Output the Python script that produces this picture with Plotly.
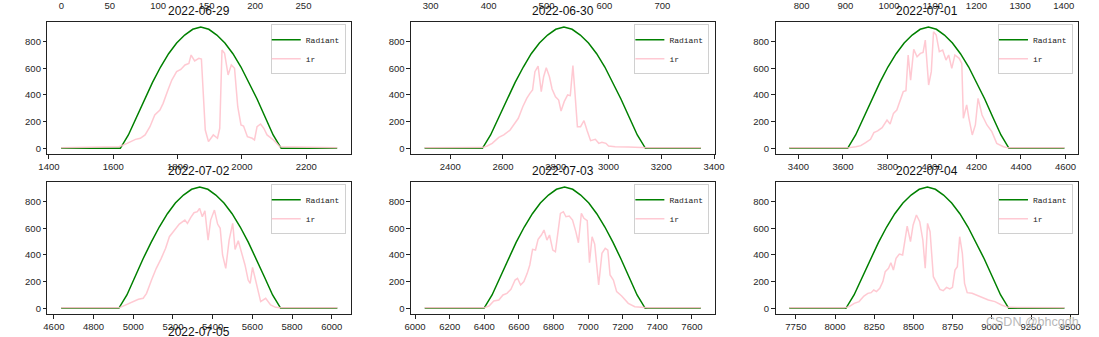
import plotly.graph_objects as go

W, H = 1099, 337

titles = ["2022-06-29", "2022-06-30", "2022-07-01", "2022-07-02", "2022-07-03", "2022-07-04"]
next_title = "2022-07-05"
watermark = "CSDN @bhcgdh"

# ---------- Radiant (green) ----------
rad_x1 = [1438, 1622, 1647, 1672, 1697, 1722, 1747, 1772, 1797, 1822, 1847, 1872, 1897, 1922, 1947, 1972, 1997, 2022, 2047, 2072, 2097, 2122, 2296]
rad_y1 = [0, 0, 100, 235, 370, 495, 610, 710, 790, 850, 893, 910, 893, 850, 790, 710, 610, 495, 370, 235, 100, 0, 0]
rad_x2 = [2303, 2522, 2553, 2584, 2615, 2646, 2677, 2707, 2738, 2769, 2800, 2831, 2862, 2893, 2924, 2955, 2986, 3016, 3047, 3078, 3109, 3140, 3350]
rad_y2 = [0, 0, 100, 235, 370, 495, 610, 710, 790, 850, 893, 910, 893, 850, 790, 710, 610, 495, 370, 235, 100, 0, 0]
rad_x3 = [3359, 3621, 3657, 3694, 3730, 3766, 3802, 3839, 3875, 3911, 3947, 3984, 4020, 4056, 4092, 4128, 4165, 4201, 4237, 4273, 4310, 4346, 4595]
rad_y3 = [0, 0, 100, 235, 370, 495, 610, 710, 790, 850, 893, 910, 893, 850, 790, 710, 610, 495, 370, 235, 100, 0, 0]
rad_x4 = [4637, 4927, 4968, 5008, 5049, 5090, 5131, 5172, 5212, 5253, 5294, 5335, 5376, 5416, 5457, 5498, 5539, 5580, 5620, 5661, 5702, 5743, 6028]
rad_y4 = [0, 0, 100, 235, 370, 495, 610, 710, 790, 850, 893, 910, 893, 850, 790, 710, 610, 495, 370, 235, 100, 0, 0]
rad_x5 = [6056, 6398, 6445, 6491, 6538, 6584, 6631, 6678, 6724, 6771, 6817, 6864, 6911, 6957, 7004, 7050, 7097, 7144, 7190, 7237, 7283, 7330, 7651]
rad_y5 = [0, 0, 100, 235, 370, 495, 610, 710, 790, 850, 893, 910, 893, 850, 790, 710, 610, 495, 370, 235, 100, 0, 0]
rad_x6 = [7708, 8069, 8121, 8173, 8225, 8277, 8329, 8381, 8433, 8485, 8537, 8589, 8640, 8692, 8744, 8796, 8848, 8900, 8952, 9004, 9056, 9108, 9463]
rad_y6 = [0, 0, 100, 235, 370, 495, 610, 710, 790, 850, 893, 910, 893, 850, 790, 710, 610, 495, 370, 235, 100, 0, 0]

# ---------- ir (pink) ----------
ir_x1 = [1438, 1618, 1643, 1669, 1684, 1699, 1714, 1729, 1745, 1755, 1770, 1782, 1797, 1810, 1823, 1835, 1842, 1853, 1866, 1874,
         1886, 1896, 1911, 1924, 1931, 1938, 1946, 1957, 1967, 1977, 1987, 1997, 2005, 2017, 2032, 2039, 2047, 2058, 2068, 2078,
         2098, 2118, 2296]
ir_y1 = [3, 12, 37, 67, 75, 100, 162, 250, 287, 337, 437, 512, 575, 592, 625, 637, 700, 655, 675, 670,
         137, 50, 100, 75, 150, 737, 712, 550, 625, 600, 312, 175, 167, 87, 75, 62, 162, 182, 150, 100,
         62, 12, 3]
ir_x2 = [2303, 2522, 2540, 2559, 2584, 2603, 2627, 2646, 2658, 2675, 2690, 2702, 2712, 2721, 2733, 2745, 2754, 2764, 2776, 2786,
         2799, 2811, 2820, 2832, 2845, 2855, 2865, 2872, 2882, 2894, 2907, 2919, 2932, 2950, 2963, 2975, 2990, 3000, 3025, 3075,
         3124, 3149, 3350]
ir_y2 = [3, 5, 17, 37, 82, 100, 137, 187, 225, 312, 375, 412, 437, 575, 617, 425, 537, 605, 537, 445,
         387, 362, 280, 350, 400, 395, 620, 437, 162, 162, 207, 132, 57, 67, 37, 45, 37, 17, 12, 10,
         5, 3, 3]
ir_x3 = [3359, 3621, 3658, 3680, 3702, 3724, 3739, 3756, 3776, 3798, 3812, 3827, 3842, 3857, 3871, 3883, 3893, 3904, 3918, 3933,
         3948, 3960, 3970, 3985, 3997, 4007, 4019, 4033, 4048, 4063, 4075, 4089, 4103, 4122, 4134, 4141, 4156, 4166, 4181, 4195,
         4207, 4225, 4247, 4269, 4291, 4321, 4343, 4595]
ir_y3 = [3, 3, 12, 20, 42, 67, 117, 130, 155, 212, 182, 262, 287, 362, 425, 432, 700, 512, 742, 687,
         712, 720, 812, 475, 575, 875, 850, 725, 737, 662, 700, 600, 700, 675, 637, 225, 325, 225, 100, 175,
         375, 250, 175, 125, 37, 12, 3, 3]
ir_x4 = [4637, 4927, 4943, 4968, 5001, 5026, 5050, 5067, 5092, 5116, 5141, 5163, 5182, 5207, 5232, 5260, 5273, 5290, 5306, 5323,
         5334, 5348, 5361, 5377, 5390, 5409, 5425, 5438, 5450, 5466, 5483, 5501, 5513, 5529, 5546, 5563, 5579, 5589, 5601, 5617,
         5642, 5667, 5692, 5717, 5744, 6028]
ir_y4 = [3, 3, 12, 30, 55, 67, 75, 112, 212, 300, 375, 450, 537, 587, 632, 662, 637, 682, 717, 725,
         750, 687, 732, 512, 662, 737, 632, 600, 400, 300, 512, 637, 442, 507, 425, 325, 212, 187, 307, 212,
         50, 75, 25, 7, 3, 3]
ir_x5 = [6056, 6398, 6427, 6455, 6484, 6508, 6531, 6554, 6578, 6592, 6610, 6629, 6648, 6663, 6679, 6696, 6711, 6730, 6745, 6762,
         6777, 6796, 6811, 6824, 6840, 6857, 6872, 6891, 6910, 6929, 6944, 6961, 6976, 6995, 7008, 7023, 7038, 7061, 7080, 7099,
         7114, 7127, 7146, 7165, 7194, 7232, 7270, 7326, 7345, 7651]
ir_y5 = [3, 3, 17, 55, 62, 100, 112, 142, 212, 225, 175, 200, 262, 325, 442, 437, 517, 550, 587, 512,
         550, 437, 425, 550, 712, 725, 687, 692, 662, 575, 492, 712, 675, 657, 342, 537, 482, 175, 412, 450,
         437, 250, 212, 125, 92, 37, 12, 5, 3, 3]
ir_x6 = [7708, 8059, 8090, 8122, 8153, 8184, 8209, 8230, 8247, 8264, 8285, 8305, 8320, 8341, 8356, 8372, 8389, 8410, 8431, 8445,
         8460, 8481, 8498, 8519, 8540, 8560, 8575, 8590, 8606, 8627, 8648, 8669, 8690, 8711, 8732, 8749, 8765, 8780, 8795, 8812,
         8826, 8843, 8874, 8899, 8926, 8978, 9020, 9062, 9104, 9463]
ir_y6 = [3, 3, 12, 37, 50, 92, 112, 117, 137, 125, 150, 200, 275, 300, 342, 287, 375, 407, 400, 500,
         617, 500, 625, 700, 650, 512, 300, 637, 575, 237, 187, 142, 132, 157, 145, 157, 287, 312, 537, 412,
         187, 117, 112, 100, 82, 62, 50, 25, 7, 3]

# axis ranges
x_ranges = [[1395, 2339], [2251, 3402], [3297, 4657], [4567, 6097], [5976, 7731], [7620, 9551]]
x_dticks = [200, 200, 200, 200, 200, 250]
y_range = [-43, 950]
y_ticks = [0, 200, 400, 600, 800]

# tick labels of the row above (cut off by the crop)
top_ranges = [[-14.4, 299], [266, 790], [740, 1433]]
top_dticks = [50, 100, 100]

rad_x = [rad_x1, rad_x2, rad_x3, rad_x4, rad_x5, rad_x6]
rad_y = [rad_y1, rad_y2, rad_y3, rad_y4, rad_y5, rad_y6]
ir_x = [ir_x1, ir_x2, ir_x3, ir_x4, ir_x5, ir_x6]
ir_y = [ir_y1, ir_y2, ir_y3, ir_y4, ir_y5, ir_y6]

col_px = [(39, 348), (409, 718), (780, 1088)]
row_px = [(21.7, 154), (181.7, 314)]

tick_font = dict(family="Liberation Sans Narrow, Liberation Sans, Arial", size=9.5, color="#262626")
title_font = dict(family="Liberation Sans Narrow, Liberation Sans, Arial", size=12, color="#111")
legend_font = dict(family="Liberation Mono, DejaVu Sans Mono, monospace", size=8, color="#222")

fig = go.Figure()
layout = dict(width=W, height=H, margin=dict(l=0, r=0, t=0, b=0),
              paper_bgcolor="white", plot_bgcolor="white", annotations=[])

for i in range(6):
    r, c = divmod(i, 3)
    n = i + 1
    xa = "x" if n == 1 else f"x{n}"
    ya = "y" if n == 1 else f"y{n}"
    lg = "legend" if n == 1 else f"legend{n}"
    fig.add_trace(go.Scatter(x=rad_x[i], y=rad_y[i], mode="lines", name="Radiant",
                             line=dict(color="#008000", width=1.5), xaxis=xa, yaxis=ya, legend=lg))
    fig.add_trace(go.Scatter(x=ir_x[i], y=ir_y[i], mode="lines", name="ir",
                             line=dict(color="#ffc0cb", width=1.5), opacity=0.85,
                             xaxis=xa, yaxis=ya, legend=lg))
    x0, x1 = col_px[c]
    t0, t1 = row_px[r]
    xdom = [x0 / W, x1 / W]
    ydom = [(H - t1) / H, (H - t0) / H]
    xkey = "xaxis" if n == 1 else f"xaxis{n}"
    ykey = "yaxis" if n == 1 else f"yaxis{n}"
    layout[xkey] = dict(domain=xdom, anchor=ya, range=x_ranges[i], tick0=0, dtick=x_dticks[i],
                        showgrid=False, zeroline=False, showline=True, mirror=True,
                        linecolor="#222", linewidth=1, ticks="outside", ticklen=3.5,
                        tickwidth=0.8, tickcolor="#222", tickfont=tick_font)
    layout[ykey] = dict(domain=ydom, anchor=xa, range=y_range, tickvals=y_ticks,
                        showgrid=False, zeroline=False, showline=True, mirror=True,
                        linecolor="#222", linewidth=1, ticks="outside", ticklen=3.5,
                        tickwidth=0.8, tickcolor="#222", tickfont=tick_font)
    layout[lg] = dict(x=(x1 - 5.3) / W, y=(H - t0 - 2.6) / H, xanchor="right", yanchor="top",
                      bgcolor="rgba(255,255,255,0.8)", bordercolor="#d0d0d0", borderwidth=1,
                      font=legend_font, itemwidth=30, tracegroupgap=0, indentation=-6)
    layout["annotations"].append(dict(text=titles[i], xref="paper", yref="paper",
                                      x=(x0 + x1) / 2 / W, y=(H - (t0 - 10.7)) / H,
                                      xanchor="center", yanchor="middle", showarrow=False,
                                      font=title_font))

# hidden strip subplots at the very top carrying the cropped tick labels of the row above
for j in range(3):
    n = 7 + j
    x0, x1 = col_px[j]
    fig.add_trace(go.Scatter(x=[top_ranges[j][0]], y=[0], mode="lines", xaxis=f"x{n}", yaxis=f"y{n}",
                             showlegend=False, hoverinfo="skip", line=dict(color="rgba(0,0,0,0)")))
    layout[f"xaxis{n}"] = dict(domain=[x0 / W, x1 / W], anchor=f"y{n}", side="bottom",
                               range=top_ranges[j], tick0=0, dtick=top_dticks[j],
                               showgrid=False, zeroline=False, showline=False, ticks="",
                               ticklabelstandoff=-3, tickfont=tick_font)
    layout[f"yaxis{n}"] = dict(domain=[0.997, 1.0], anchor=f"x{n}", visible=False,
                               showgrid=False, zeroline=False, range=[0, 1])

# title of the next (cropped) row
layout["annotations"].append(dict(text=next_title, xref="paper", yref="paper",
                                  x=(39 + 348) / 2 / W, y=(H - 332) / H, xanchor="center", yanchor="middle",
                                  showarrow=False, font=title_font))
layout["annotations"].append(dict(text=watermark, xref="paper", yref="paper",
                                  x=1042 / W, y=(H - 321.7) / H, xanchor="center", yanchor="middle",
                                  showarrow=False, font=dict(family="Liberation Sans, Arial", size=12.5, color="#b8b8b8")))

fig.update_layout(**layout)
fig.write_html("out.html")
